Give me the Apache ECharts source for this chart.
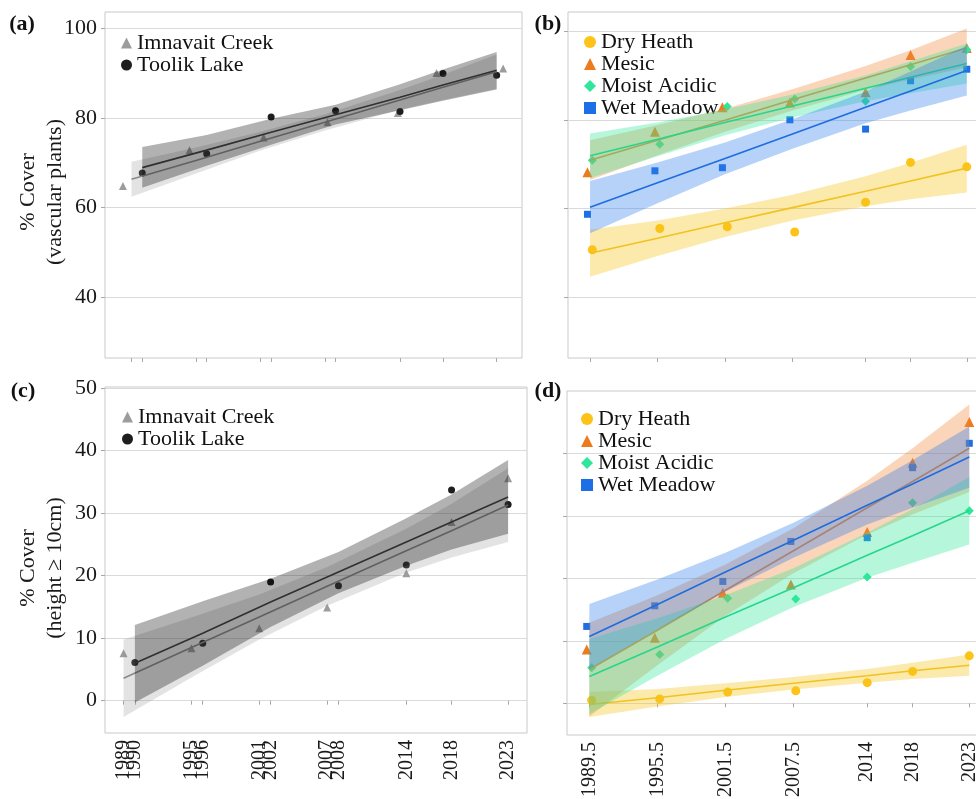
<!DOCTYPE html>
<html>
<head>
<meta charset="utf-8">
<script src="https://cdn.jsdelivr.net/npm/echarts@6/dist/echarts.min.js"></script>
<style>
html,body{margin:0;padding:0;background:#fff;}
#chart{width:976px;height:799px;}
</style>
</head>
<body>
<div id="chart"></div>
<script>
// ---------------- DATA ----------------
// Panels (a) and (c): sites
const siteNames = ['Imnavait Creek', 'Toolik Lake'];
const imnavaitYearsA = [1988.2, 1994.4, 2001.3, 2007.25, 2013.8, 2017.4, 2023.6];
const imnavaitYearsC = [1989, 1995, 2001, 2007, 2014, 2018, 2023];
const toolikYears = [1990, 1996, 2002, 2008, 2014, 2018, 2023];
const imnavaitFitYears = [1989, 1995, 2001, 2007, 2014, 2018, 2023];

// (a) % cover of vascular plants
const imnavaitCoverA = [64.8, 72.8, 75.6, 79.0, 81.1, 90.0, 91.0];
const toolikCoverA = [67.7, 72.0, 80.2, 81.6, 81.4, 89.9, 89.5];
const imnavaitFitA = [66.3, 70.5, 74.8, 79.0, 84.0, 86.8, 90.3];
const imnavaitUpperA = [70.2, 73.4, 76.9, 80.8, 86.2, 89.6, 94.1];
const imnavaitLowerA = [62.4, 67.6, 72.7, 77.2, 81.8, 84.0, 86.5];
const toolikFitA = [68.9, 72.8, 76.8, 80.7, 84.6, 87.3, 90.6];
const toolikUpperA = [73.5, 76.2, 79.8, 82.9, 87.5, 90.8, 94.7];
const toolikLowerA = [64.4, 69.3, 74.0, 78.5, 81.7, 83.8, 86.3];

// (c) % cover of plants with height >= 10 cm
const imnavaitCoverC = [7.6, 8.4, 11.6, 14.9, 20.4, 28.6, 35.6];
const toolikCoverC = [6.1, 9.2, 19.0, 18.4, 21.7, 33.7, 31.4];
const imnavaitFitC = [3.6, 8.5, 13.4, 18.3, 24.0, 27.2, 31.3];
const imnavaitUpperC = [9.8, 13.3, 17.0, 21.4, 27.5, 31.5, 37.2];
const imnavaitLowerC = [-2.6, 3.7, 9.8, 15.2, 20.5, 22.9, 25.4];
const toolikFitC = [6.0, 10.8, 15.8, 20.6, 25.4, 28.6, 32.6];
const toolikUpperC = [12.1, 15.9, 19.5, 23.8, 29.2, 33.0, 38.5];
const toolikLowerC = [-0.3, 5.6, 11.8, 17.2, 21.6, 24.2, 26.7];

// Panels (b) and (d): habitats
const habitatNames = ['Dry Heath', 'Mesic', 'Moist Acidic', 'Wet Meadow'];
const habitatYears = [1989.5, 1995.5, 2001.5, 2007.5, 2014, 2018, 2023];
const habitatYearsRight = [1989.7, 1995.7, 2001.7, 2007.7, 2014, 2018, 2023];
const habitatYearsLeft = [1989.27, 1995.27, 2001.27, 2007.27, 2014, 2018, 2023];

// (b)
const dryCoverB = [50.7, 55.5, 55.9, 54.7, 61.4, 70.4, 69.4];
const mesicCoverB = [68.2, 77.3, 82.8, 83.9, 86.2, 94.6, 96.2];
const moistCoverB = [70.9, 74.5, 83.0, 84.7, 84.2, 92.0, 95.8];
const wetCoverB = [58.7, 68.5, 69.2, 80.0, 77.9, 88.8, 91.4];
const dryFitB = [49.9, 53.3, 56.8, 60.2, 63.9, 66.2, 69.1];
const dryUpperB = [55.2, 57.3, 60.0, 63.1, 67.3, 70.3, 74.4];
const dryLowerB = [44.6, 49.3, 53.6, 57.3, 60.5, 62.1, 63.6];
const mesicFitB = [70.9, 75.4, 79.9, 84.5, 89.4, 92.4, 96.2];
const mesicUpperB = [75.4, 78.8, 82.5, 86.9, 92.1, 95.7, 100.6];
const mesicLowerB = [66.4, 72.0, 77.3, 82.1, 86.7, 89.1, 91.8];
const moistFitB = [71.9, 75.6, 79.4, 83.1, 87.1, 89.6, 92.7];
const moistUpperB = [76.9, 79.4, 82.3, 85.7, 90.0, 93.2, 97.2];
const moistLowerB = [66.9, 71.8, 76.5, 80.5, 84.2, 86.0, 88.2];
const wetFitB = [60.3, 65.8, 71.3, 76.8, 82.8, 86.5, 91.1];
const wetUpperB = [66.2, 70.4, 74.9, 80.1, 86.4, 90.9, 96.7];
const wetLowerB = [54.4, 61.2, 67.7, 73.5, 79.2, 82.1, 85.5];

// (d)
const dryCoverD = [0.5, 0.7, 1.8, 2.0, 3.3, 5.1, 7.6];
const mesicCoverD = [8.6, 10.5, 17.7, 19.0, 27.4, 38.5, 45.0];
const moistCoverD = [5.7, 7.8, 16.8, 16.7, 20.2, 32.1, 30.8];
const wetCoverD = [12.3, 15.6, 19.5, 25.9, 26.5, 37.7, 41.6];
const dryFitD = [-0.2, 0.9, 2.1, 3.2, 4.4, 5.2, 6.1];
const dryUpperD = [1.8, 2.3, 3.2, 4.2, 5.5, 6.5, 7.8];
const dryLowerD = [-2.2, -0.5, 1.0, 2.2, 3.3, 3.9, 4.4];
const mesicFitD = [5.4, 11.7, 18.1, 24.4, 31.3, 35.5, 40.8];
const mesicUpperD = [12.9, 17.3, 22.2, 28.0, 35.6, 40.8, 47.8];
const mesicLowerD = [-2.1, 6.1, 14.0, 20.8, 27.0, 30.2, 33.8];
const moistFitD = [4.3, 9.0, 13.8, 18.5, 23.7, 26.8, 30.8];
const moistUpperD = [10.3, 13.6, 17.3, 21.6, 27.3, 31.1, 36.2];
const moistLowerD = [-1.7, 4.4, 10.3, 15.4, 20.1, 22.5, 25.4];
const wetFitD = [10.7, 15.8, 21.0, 26.1, 31.7, 35.1, 39.4];
const wetUpperD = [15.9, 19.8, 24.1, 28.9, 34.8, 38.9, 44.3];
const wetLowerD = [5.5, 11.8, 17.9, 23.3, 28.6, 31.3, 34.5];

// tick values / labels
const siteTickYears = [1989, 1990, 1995, 1996, 2001, 2002, 2007, 2008, 2014, 2018, 2023];
const siteLabelYearsImnavait = [1989, 1995, 2001, 2007, 2014, 2018, 2023];
const siteLabelYearsToolik = [1990, 1996, 2002, 2008];
const habitatTickYears = [1989.5, 1995.5, 2001.5, 2007.5, 2014, 2018, 2023];
const yTicksTop = [40, 60, 80, 100];
const yTicksBottom = [0, 10, 20, 30, 40, 50];
const panelLabels = ['(a)', '(b)', '(c)', '(d)'];
const yTitleTop = '% Cover\n(vascular plants)';
const yTitleBottom = '% Cover\n(height \u2265 10cm)';

// ---------------- STYLE ----------------
const SERIF = 'Liberation Serif, Times New Roman, serif';
const siteColors = {
  'Imnavait Creek': {pt: '#9c9c9c', line: '#8a8a8a', band: 'rgba(140,140,140,0.24)', symbol: 'triangle', size: 8},
  'Toolik Lake': {pt: '#1e1e1e', line: '#303030', band: 'rgba(0,0,0,0.30)', symbol: 'circle', size: 7}
};
const habitatStyle = {
  'Dry Heath': {pt: '#FDC318', line: '#F2C21E', band: 'rgba(245,197,24,0.36)', symbol: 'circle', size: 9},
  'Mesic': {pt: '#EE7A1E', line: '#E5863A', band: 'rgba(240,138,60,0.36)', symbol: 'triangle', size: 10},
  'Moist Acidic': {pt: '#2FE69A', line: '#27D68C', band: 'rgba(46,232,154,0.35)', symbol: 'diamond', size: 9},
  'Wet Meadow': {pt: '#1E6FE6', line: '#1E6CDE', band: 'rgba(47,127,234,0.35)', symbol: 'rect', size: 7}
};

// ---------------- HELPERS ----------------
function band(idx, xs, lo, hi, fill, z) {
  return {
    type: 'custom', xAxisIndex: idx, yAxisIndex: idx, z: z, silent: true,
    data: xs.map((x, i) => [x, lo[i], hi[i]]),
    encode: {x: 0, y: [1, 2]},
    renderItem: function (params, api) {
      if (params.dataIndex !== 0) return null;
      const pts = [];
      for (let i = 0; i < xs.length; i++) pts.push(api.coord([xs[i], hi[i]]));
      for (let i = xs.length - 1; i >= 0; i--) pts.push(api.coord([xs[i], lo[i]]));
      return {type: 'polygon', shape: {points: pts}, style: {fill: fill}};
    }
  };
}
function fitLine(idx, xs, ys, color, z) {
  return {
    type: 'line', xAxisIndex: idx, yAxisIndex: idx, z: z, silent: true,
    showSymbol: false, symbol: 'none',
    lineStyle: {color: color, width: 1.6},
    data: xs.map((x, i) => [x, ys[i]])
  };
}
function points(idx, name, xs, ys, st) {
  return {
    type: 'scatter', name: name, xAxisIndex: idx, yAxisIndex: idx, z: 1, silent: true,
    symbol: st.symbol, symbolSize: st.size,
    itemStyle: {color: st.pt, opacity: 1},
    data: xs.map((x, i) => [x, ys[i]])
  };
}

const grids = [
  {left: 105, top: 12, width: 417, height: 346},
  {left: 568, top: 12, width: 417, height: 346},
  {left: 105, top: 387, width: 422, height: 346},
  {left: 567, top: 391, width: 421, height: 344}
].map(g => Object.assign(g, {show: true, borderColor: '#c9c9c9', borderWidth: 1, backgroundColor: 'transparent',
  containLabel: false, outerBoundsMode: 'none'}));

const xRanges = [[1986.53, 2025.36], [1987.54, 2024.62], [1987.36, 2024.67], [1987.53, 2024.65]];
const yRanges = [[26.45, 103.6], [26.3, 104.3], [-5.17, 50.19], [-5.07, 49.97]];

const xLabelStyle = {rotate: 90, margin: 7, showMinLabel: true, showMaxLabel: true, hideOverlap: false,
  fontFamily: SERIF, fontSize: 20, color: '#1a1a1a', formatter: v => String(v)};

const xAxes = xRanges.map((r, i) => {
  const ticks = (i % 2 === 0) ? siteTickYears : habitatTickYears;
  const labelVals = (i === 2) ? siteLabelYearsImnavait : habitatTickYears;
  return {
    gridIndex: i, type: 'value', position: 'bottom', min: r[0], max: r[1],
    axisLine: {show: false},
    splitLine: {show: false},
    axisTick: {show: true, length: 4, lineStyle: {color: '#a8a8a8'}, customValues: ticks},
    axisLabel: Object.assign({show: i >= 2, customValues: labelVals}, xLabelStyle)
  };
});
// second label row for panel (c), same scale, carries the Toolik survey years
xAxes.push({
  gridIndex: 2, type: 'value', position: 'bottom', offset: 0, min: xRanges[2][0], max: xRanges[2][1],
  axisLine: {show: false}, splitLine: {show: false}, axisTick: {show: false},
  axisLabel: Object.assign({show: true, customValues: siteLabelYearsToolik}, xLabelStyle)
});

const yAxes = yRanges.map((r, i) => {
  const ticks = i < 2 ? yTicksTop : yTicksBottom;
  return {
    gridIndex: i, type: 'value', min: r[0], max: r[1],
    axisLine: {show: false},
    axisTick: {show: true, length: 4, lineStyle: {color: '#a8a8a8'}, customValues: ticks},
    axisLabel: {show: i % 2 === 0, customValues: ticks, margin: 8, fontFamily: SERIF, fontSize: 22, color: '#1a1a1a',
      showMinLabel: true, showMaxLabel: true, formatter: v => String(v)},
    splitLine: {show: true, lineStyle: {color: '#dadada', width: 1}}
  };
});

const series = [];
// (a)
series.push(points(0, 'Imnavait Creek', imnavaitYearsA, imnavaitCoverA, siteColors['Imnavait Creek']));
series.push(points(0, 'Toolik Lake', toolikYears, toolikCoverA, siteColors['Toolik Lake']));
series.push(band(0, imnavaitFitYears, imnavaitLowerA, imnavaitUpperA, siteColors['Imnavait Creek'].band, 2));
series.push(fitLine(0, imnavaitFitYears, imnavaitFitA, siteColors['Imnavait Creek'].line, 3));
series.push(band(0, toolikYears, toolikLowerA, toolikUpperA, siteColors['Toolik Lake'].band, 4));
series.push(fitLine(0, toolikYears, toolikFitA, siteColors['Toolik Lake'].line, 5));
// (c)
series.push(points(2, 'Imnavait Creek', imnavaitYearsC, imnavaitCoverC, siteColors['Imnavait Creek']));
series.push(points(2, 'Toolik Lake', toolikYears, toolikCoverC, siteColors['Toolik Lake']));
series.push(band(2, imnavaitFitYears, imnavaitLowerC, imnavaitUpperC, siteColors['Imnavait Creek'].band, 2));
series.push(fitLine(2, imnavaitFitYears, imnavaitFitC, siteColors['Imnavait Creek'].line, 3));
series.push(band(2, toolikYears, toolikLowerC, toolikUpperC, siteColors['Toolik Lake'].band, 4));
series.push(fitLine(2, toolikYears, toolikFitC, siteColors['Toolik Lake'].line, 5));

// (b) and (d)
const habitatPanels = [
  {idx: 1, cover: [dryCoverB, mesicCoverB, moistCoverB, wetCoverB], fit: [dryFitB, mesicFitB, moistFitB, wetFitB],
   up: [dryUpperB, mesicUpperB, moistUpperB, wetUpperB], lo: [dryLowerB, mesicLowerB, moistLowerB, wetLowerB]},
  {idx: 3, cover: [dryCoverD, mesicCoverD, moistCoverD, wetCoverD], fit: [dryFitD, mesicFitD, moistFitD, wetFitD],
   up: [dryUpperD, mesicUpperD, moistUpperD, wetUpperD], lo: [dryLowerD, mesicLowerD, moistLowerD, wetLowerD]}
];
const pointYears = [habitatYearsRight, habitatYearsLeft, habitatYearsRight, habitatYearsLeft];
habitatPanels.forEach(p => {
  habitatNames.forEach((n, k) => {
    series.push(points(p.idx, n, pointYears[k], p.cover[k], habitatStyle[n]));
  });
  habitatNames.forEach((n, k) => {
    series.push(band(p.idx, habitatYears, p.lo[k], p.up[k], habitatStyle[n].band, 2 + 2 * k));
    series.push(fitLine(p.idx, habitatYears, p.fit[k], habitatStyle[n].line, 3 + 2 * k));
  });
});

const legendText = {fontFamily: SERIF, fontSize: 22, color: '#111', lineHeight: 19};
function legend(left, top, names, styles, iw) {
  return {
    orient: 'vertical', left: left, top: top, itemGap: 0, itemWidth: iw, itemHeight: iw,
    selectedMode: false, padding: 0, textStyle: legendText,
    data: names.map(n => ({name: n, icon: styles[n].symbol}))
  };
}

const panelLabelPos = [[22, 24], [548, 24], [23, 391], [548, 391]];
const graphic = panelLabels.map((t, i) => ({
  type: 'text', x: panelLabelPos[i][0], y: panelLabelPos[i][1], silent: true,
  style: {text: t, font: 'bold 22px ' + SERIF, fill: '#111', textAlign: 'center', textVerticalAlign: 'middle'}
}));
graphic.push({
  type: 'text', x: 42, y: 192, rotation: Math.PI / 2, silent: true,
  style: {text: yTitleTop, font: '22px ' + SERIF, fill: '#1a1a1a', textAlign: 'center', textVerticalAlign: 'middle', lineHeight: 27}
});
graphic.push({
  type: 'text', x: 42, y: 568, rotation: Math.PI / 2, silent: true,
  style: {text: yTitleBottom, font: '22px ' + SERIF, fill: '#1a1a1a', textAlign: 'center', textVerticalAlign: 'middle', lineHeight: 27}
});

const option = {
  animation: false,
  backgroundColor: '#ffffff',
  grid: grids,
  xAxis: xAxes,
  yAxis: yAxes,
  legend: [
    legend(121, 32, siteNames, siteColors, 11),
    legend(584, 31, habitatNames, habitatStyle, 12),
    legend(122, 406, siteNames, siteColors, 11),
    legend(581, 408, habitatNames, habitatStyle, 12)
  ],
  graphic: graphic,
  series: series
};

const chart = echarts.init(document.getElementById('chart'), null, {renderer: 'canvas'});
chart.setOption(option);
</script>
</body>
</html>
